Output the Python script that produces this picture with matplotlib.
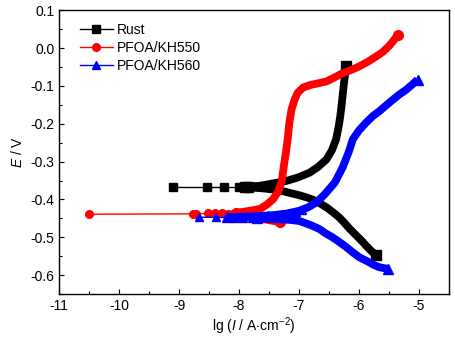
import matplotlib
matplotlib.use("Agg")
import matplotlib.pyplot as plt
from matplotlib.ticker import MultipleLocator

plt.rcParams['font.family'] = ['Liberation Sans', 'DejaVu Sans']
plt.rcParams['mathtext.fontset'] = 'custom'
plt.rcParams['mathtext.it'] = 'Liberation Sans:italic'
plt.rcParams['mathtext.rm'] = 'Liberation Sans'

# Rust: cathodic branch, points near Ecorr, anodic branch
rust_cat_x = [-5.71, -5.80, -5.88, -5.96, -6.05, -6.15, -6.24, -6.33, -6.43, -6.53,
              -6.64, -6.76, -6.88, -6.99, -7.12, -7.27, -7.42, -7.58, -7.74, -7.90]
rust_cat_e = [-0.548, -0.535, -0.522, -0.508, -0.494, -0.478, -0.462, -0.447, -0.434, -0.422,
              -0.411, -0.401, -0.394, -0.389, -0.384, -0.378, -0.374, -0.371, -0.369, -0.368]
rust_mid_x = [-7.90, -8.00, -8.25, -8.54, -9.11]
rust_mid_e = [-0.368, -0.368, -0.368, -0.368, -0.368]
rust_an_x = [-7.85, -7.66, -7.45, -7.21, -7.02, -6.82, -6.68, -6.54, -6.45, -6.38,
             -6.34, -6.31, -6.29, -6.27, -6.25, -6.23, -6.22]
rust_an_e = [-0.366, -0.364, -0.358, -0.351, -0.342, -0.329, -0.314, -0.294, -0.270, -0.241,
             -0.210, -0.180, -0.154, -0.125, -0.095, -0.070, -0.048]

# PFOA/KH550
kh550_cat_x = [-7.32, -7.45, -7.60, -7.75, -7.90, -8.00, -8.10]
kh550_cat_e = [-0.460, -0.456, -0.452, -0.448, -0.445, -0.442, -0.440]
kh550_mid_x = [-8.10, -8.18, -8.29, -8.40, -8.52, -8.72, -8.77, -10.5]
kh550_mid_e = [-0.440, -0.438, -0.437, -0.437, -0.437, -0.438, -0.438, -0.439]
kh550_an_x = [-8.05, -7.90, -7.75, -7.65, -7.53, -7.43, -7.35, -7.29, -7.25, -7.21,
              -7.18, -7.16, -7.12, -7.07, -7.02, -6.93, -6.80, -6.65, -6.54, -6.40,
              -6.27, -6.13, -5.99, -5.85, -5.71, -5.60, -5.50, -5.42, -5.35]
kh550_an_e = [-0.435, -0.432, -0.428, -0.425, -0.413, -0.399, -0.380, -0.355, -0.310, -0.268,
              -0.230, -0.197, -0.160, -0.135, -0.118, -0.104, -0.097, -0.092, -0.088, -0.077,
              -0.066, -0.058, -0.048, -0.036, -0.022, -0.010, 0.005, 0.020, 0.035]

# PFOA/KH560
kh560_cat_x = [-5.52, -5.60, -5.66, -5.75, -5.85, -5.99, -6.10, -6.20, -6.32, -6.44,
               -6.55, -6.66, -6.80, -6.99, -7.15, -7.35, -7.55, -7.70]
kh560_cat_e = [-0.583, -0.581, -0.579, -0.573, -0.564, -0.553, -0.540, -0.527, -0.513, -0.500,
               -0.490, -0.478, -0.468, -0.457, -0.454, -0.452, -0.451, -0.450]
kh560_mid_x = [-7.79, -7.93, -8.07, -8.38, -8.67]
kh560_mid_e = [-0.448, -0.448, -0.449, -0.447, -0.447]
# separate triangles seen along the anodic branch close to Ecorr
kh560_tri_x = [-7.65, -7.52, -7.40, -7.28, -7.16, -7.05, -6.95]
kh560_tri_e = [-0.443, -0.442, -0.441, -0.439, -0.436, -0.432, -0.427]
kh560_an_x = [-8.20, -8.00, -7.80, -7.60, -7.40, -7.20, -7.00, -6.85, -6.71, -6.58,
              -6.48, -6.40, -6.27, -6.17, -6.10, -6.00, -5.88, -5.77, -5.66, -5.55,
              -5.43, -5.32, -5.21, -5.10, -5.02]
kh560_an_e = [-0.447, -0.446, -0.445, -0.443, -0.441, -0.437, -0.430, -0.421, -0.408, -0.388,
              -0.370, -0.355, -0.315, -0.275, -0.241, -0.218, -0.197, -0.180, -0.167, -0.152,
              -0.136, -0.122, -0.110, -0.095, -0.083]

series = [
    ("Rust", "black", "s", rust_cat_x, rust_cat_e, rust_mid_x, rust_mid_e, rust_an_x, rust_an_e),
    ("PFOA/KH550", "red", "o", kh550_cat_x, kh550_cat_e, kh550_mid_x, kh550_mid_e, kh550_an_x, kh550_an_e),
    ("PFOA/KH560", "blue", "^", kh560_cat_x, kh560_cat_e, kh560_mid_x, kh560_mid_e, kh560_an_x, kh560_an_e),
]

fig = plt.figure(figsize=(4.56, 3.38), dpi=100)
ax = fig.add_axes([0.130, 0.130, 0.854, 0.8395])

handles = []
for name, col, mk, cx, ce, mx, me, axx, ae in series:
    h, = ax.plot(mx, me, '-', color=col, lw=1, marker=mk, ms=5.5, mec=col, mfc=col, label=name)
    handles.append(h)
    # dense measured points merge into a thick band; show end markers
    for bx, be in ((cx, ce), (axx, ae)):
        ax.plot(bx, be, '-', color=col, lw=5.6, solid_capstyle='butt', solid_joinstyle='round',
                marker=mk, ms=7, markevery=[0, len(bx) - 1])
    if col == "blue":
        ax.plot(kh560_tri_x, kh560_tri_e, ls='none', marker=mk, ms=5.5, color=col)

ax.set_xlim(-11, -4.5)
ax.set_ylim(-0.65, 0.1)
ax.xaxis.set_minor_locator(MultipleLocator(0.5))
ax.yaxis.set_minor_locator(MultipleLocator(0.05))
ax.tick_params(which='both', direction='in', labelsize=10)
ax.tick_params(which='major', length=3.5, width=0.8)
ax.tick_params(which='minor', length=2, width=0.8)
ax.set_yticks([-0.6, -0.5, -0.4, -0.3, -0.2, -0.1, 0.0, 0.1])
ax.set_yticklabels(["-0.6", "-0.5", "-0.4", "-0.3", "-0.2", "-0.1", "0.0", "0.1"])
ax.set_xticks([-11, -10, -9, -8, -7, -6, -5])
ax.set_xticklabels(["-11", "-10", "-9", "-8", "-7", "-6", "-5"])
for s in ax.spines.values():
    s.set_linewidth(1)

ax.set_xlabel(r"lg ($I$ / A$\cdot$cm$^{-2}$)", fontsize=10, labelpad=2)
ax.set_ylabel(r"$E$ / V", fontsize=10, labelpad=4)

ax.legend(handles=handles, loc='upper left', bbox_to_anchor=(0.02, 1.0), frameon=False,
          fontsize=10, handlelength=2.4, labelspacing=0.3, handletextpad=0.3)

fig.savefig("out.png", dpi=100)
